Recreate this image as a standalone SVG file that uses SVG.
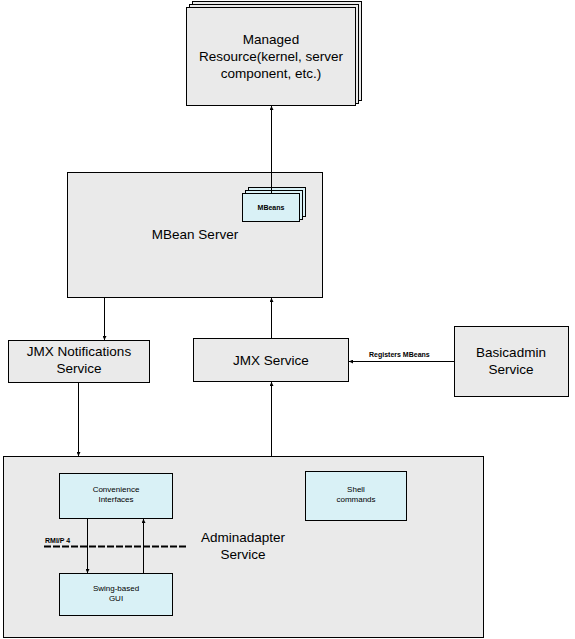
<svg xmlns="http://www.w3.org/2000/svg" width="575" height="639" viewBox="0 0 575 639">
<defs>
<style>
.g{fill:#eaeaea;stroke:#000;stroke-width:1}
.c{fill:#d9f1f6;stroke:#000;stroke-width:1}
.t{font-family:"Liberation Sans",Arial,sans-serif;font-size:13.5px;fill:#000;text-anchor:middle}
.s{font-family:"Liberation Sans",Arial,sans-serif;font-size:8px;fill:#000;text-anchor:middle}
.x{font-family:"Liberation Sans",Arial,sans-serif;font-size:7px;font-weight:bold;fill:#000}
.l{stroke:#000;stroke-width:1;fill:none}
</style>
<marker id="a" viewBox="0 0 6 6" refX="6" refY="3" markerWidth="4" markerHeight="4" orient="auto" markerUnits="userSpaceOnUse">
<path d="M0,0 L6,3 L0,6 z" fill="#000"/>
</marker>
</defs>
<rect width="575" height="639" fill="#fff"/>
<g id="managed-resource">
<rect class="g" x="192.5" y="1.5" width="169" height="99"/>
<rect class="g" x="189.5" y="4.5" width="169" height="99"/>
<rect class="g" x="186.5" y="7.5" width="169" height="98"/>
<text class="t" x="271" y="44">Managed</text>
<text class="t" x="271" y="61">Resource(kernel, server</text>
<text class="t" x="271" y="78">component, etc.)</text>
</g>
<g id="mbean-server">
<rect class="g" x="67.5" y="172.5" width="255" height="125"/>
<text class="t" x="195" y="239">MBean Server</text>
</g>
<g id="mbeans">
<rect class="c" x="248.5" y="187.5" width="57" height="29"/>
<rect class="c" x="245.5" y="190.5" width="57" height="29"/>
<rect class="c" x="242.5" y="193.5" width="57" height="28"/>
<text class="x" x="271" y="210" text-anchor="middle">MBeans</text>
</g>
<g id="jmx-notifications">
<rect class="g" x="8.5" y="340.5" width="141" height="42"/>
<text class="t" x="79" y="356">JMX Notifications</text>
<text class="t" x="79" y="373">Service</text>
</g>
<g id="jmx-service">
<rect class="g" x="193.5" y="338.5" width="155" height="43"/>
<text class="t" x="271" y="365">JMX Service</text>
</g>
<g id="basicadmin">
<rect class="g" x="454.5" y="326.5" width="114" height="70"/>
<text class="t" x="511" y="357">Basicadmin</text>
<text class="t" x="511" y="374">Service</text>
</g>
<g id="adminadapter">
<rect class="g" x="3.5" y="456.5" width="480" height="181"/>
<text class="t" x="243" y="542">Adminadapter</text>
<text class="t" x="243" y="559">Service</text>
</g>
<g id="convenience">
<rect class="c" x="59.5" y="473.5" width="113" height="45"/>
<text class="s" x="116" y="492">Convenience</text>
<text class="s" x="116" y="502">Interfaces</text>
</g>
<g id="swing-gui">
<rect class="c" x="59.5" y="573.5" width="113" height="42"/>
<text class="s" x="116" y="591">Swing-based</text>
<text class="s" x="116" y="601">GUI</text>
</g>
<g id="shell">
<rect class="c" x="305.5" y="471.5" width="101" height="49"/>
<text class="s" x="356" y="492">Shell</text>
<text class="s" x="356" y="502">commands</text>
</g>
<g id="connectors">
<line class="l" x1="271.5" y1="193" x2="271.5" y2="106" marker-end="url(#a)"/>
<line class="l" x1="104.5" y1="298" x2="104.5" y2="340" marker-end="url(#a)"/>
<line class="l" x1="271.5" y1="338" x2="271.5" y2="298" marker-end="url(#a)"/>
<line class="l" x1="454" y1="361.5" x2="349" y2="361.5" marker-end="url(#a)"/>
<text class="x" x="369" y="357">Registers MBeans</text>
<line class="l" x1="78.5" y1="383" x2="78.5" y2="456" marker-end="url(#a)"/>
<line class="l" x1="271.5" y1="456" x2="271.5" y2="382" marker-end="url(#a)"/>
<line class="l" x1="87.5" y1="519" x2="87.5" y2="573" marker-end="url(#a)"/>
<line class="l" x1="143.5" y1="573" x2="143.5" y2="519" marker-end="url(#a)"/>
<line x1="44" y1="546.5" x2="187" y2="546.5" stroke="#000" stroke-width="2" stroke-dasharray="7,2"/>
<text class="x" x="45" y="543">RMI/P 4</text>
</g>
</svg>
